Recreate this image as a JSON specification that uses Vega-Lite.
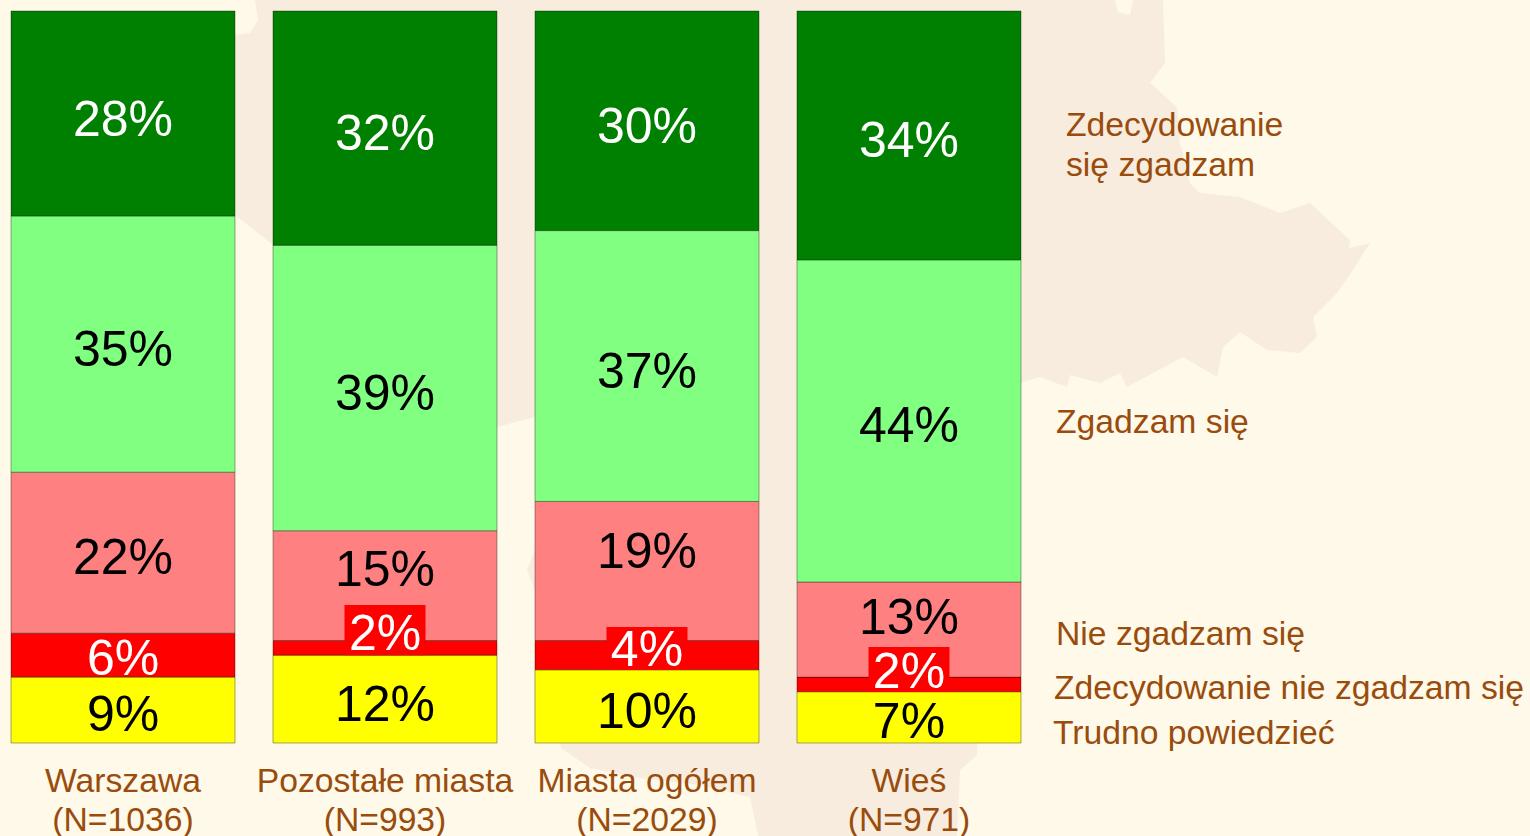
{
"$schema":"https://vega.github.io/schema/vega-lite/v6.json",
"width":1530,"height":836,"padding":0,"autosize":{"type":"none"},
"background":"#FEF9E8",
"config":{"view":{"stroke":null},"font":"Liberation Sans"},
"datasets":{
"shares":[
{"group":"Warszawa (N=1036)","series":"Trudno powiedzieć","rank":1,"value":9,"labelPos":4.0},
{"group":"Warszawa (N=1036)","series":"Zdecydowanie nie zgadzam się","rank":2,"value":6,"labelPos":11.6},
{"group":"Warszawa (N=1036)","series":"Nie zgadzam się","rank":3,"value":22,"labelPos":25.4},
{"group":"Warszawa (N=1036)","series":"Zgadzam się","rank":4,"value":35,"labelPos":53.8},
{"group":"Warszawa (N=1036)","series":"Zdecydowanie się zgadzam","rank":5,"value":28,"labelPos":85.2},
{"group":"Pozostałe miasta (N=993)","series":"Trudno powiedzieć","rank":1,"value":12,"labelPos":5.3},
{"group":"Pozostałe miasta (N=993)","series":"Zdecydowanie nie zgadzam się","rank":2,"value":2,"labelPos":15.0},
{"group":"Pozostałe miasta (N=993)","series":"Nie zgadzam się","rank":3,"value":15,"labelPos":23.8},
{"group":"Pozostałe miasta (N=993)","series":"Zgadzam się","rank":4,"value":39,"labelPos":47.8},
{"group":"Pozostałe miasta (N=993)","series":"Zdecydowanie się zgadzam","rank":5,"value":32,"labelPos":83.3},
{"group":"Miasta ogółem (N=2029)","series":"Trudno powiedzieć","rank":1,"value":10,"labelPos":4.4},
{"group":"Miasta ogółem (N=2029)","series":"Zdecydowanie nie zgadzam się","rank":2,"value":4,"labelPos":12.8},
{"group":"Miasta ogółem (N=2029)","series":"Nie zgadzam się","rank":3,"value":19,"labelPos":26.2},
{"group":"Miasta ogółem (N=2029)","series":"Zgadzam się","rank":4,"value":37,"labelPos":50.8},
{"group":"Miasta ogółem (N=2029)","series":"Zdecydowanie się zgadzam","rank":5,"value":30,"labelPos":84.3},
{"group":"Wieś (N=971)","series":"Trudno powiedzieć","rank":1,"value":7,"labelPos":3.0},
{"group":"Wieś (N=971)","series":"Zdecydowanie nie zgadzam się","rank":2,"value":2,"labelPos":9.8},
{"group":"Wieś (N=971)","series":"Nie zgadzam się","rank":3,"value":13,"labelPos":17.2},
{"group":"Wieś (N=971)","series":"Zgadzam się","rank":4,"value":44,"labelPos":43.4},
{"group":"Wieś (N=971)","series":"Zdecydowanie się zgadzam","rank":5,"value":34,"labelPos":82.4}
],
"boxes":[
{"group":"Pozostałe miasta (N=993)","low":12,"high":18.85},
{"group":"Miasta ogółem (N=2029)","low":10,"high":15.85},
{"group":"Wieś (N=971)","low":7,"high":13.1}
],
"key":[
{"label":"Zdecydowanie\nsię zgadzam","keyX":1066,"keyPos":84.35},
{"label":"Zgadzam się","keyX":1056,"keyPos":43.65},
{"label":"Nie zgadzam się","keyX":1056,"keyPos":14.76},
{"label":"Zdecydowanie nie zgadzam się","keyX":1054,"keyPos":7.4},
{"label":"Trudno powiedzieć","keyX":1053,"keyPos":1.28}
]
},
"layer":[
{
"data":{"values":[{"type":"Feature","properties":{},"geometry":{"type":"Polygon","coordinates":[[[255,0],[1115,0],[1118,12],[1130,15],[1133,0],[1163,0],[1165,63],[1150,83],[1177,107],[1180,143],[1190,183],[1200,193],[1240,197],[1280,213],[1310,203],[1350,240],[1349,248],[1370,243],[1353,270],[1337,293],[1313,317],[1317,337],[1300,353],[1267,350],[1240,332],[1223,347],[1217,377],[1183,357],[1127,387],[1120,373],[1100,383],[1070,375],[1067,387],[1040,377],[1020,383],[985,560],[977,755],[960,770],[957,836],[758,836],[757,830],[750,797],[700,785],[640,778],[590,768],[561,748],[535,590],[527,570],[535,550],[535,417],[497,427],[273,245],[235,215],[230,100],[235,35],[250,33],[258,20],[255,0]]]}}]},
"projection":{"type":"identity","scale":1,"translate":[0,0]},
"mark":{"type":"geoshape","fill":"#F8ECDE","stroke":null}
},
{
"encoding":{
"x":{"field":"group","type":"nominal","sort":null,
"scale":{"domain":["Warszawa (N=1036)","Pozostałe miasta (N=993)","Miasta ogółem (N=2029)","Wieś (N=971)"],"range":[11,1021],"paddingInner":0.145,"paddingOuter":0},
"axis":{"title":null,"domain":false,"ticks":false,"grid":false,"orient":"bottom","offset":-93,"zindex":1,"labelAngle":0,"labelFontSize":33.7,"labelFont":"Liberation Sans","labelColor":"#994C0D","labelPadding":21,"labelLineHeight":39,"labelLimit":500,"labelOverlap":false,"labelBound":false,"labelFlush":false,"labelBaseline":"top",
"labelExpr":"[slice(datum.label,0,indexof(datum.label,' (')),slice(datum.label,indexof(datum.label,' (')+1)]"}}
},
"layer":[
{
"data":{"name":"shares"},
"mark":{"type":"bar","stroke":"#000","strokeOpacity":0.35,"strokeWidth":1},
"encoding":{
"y":{"field":"value","type":"quantitative","stack":"zero","scale":{"domain":[0,100],"range":[743,11],"nice":false,"zero":false},"axis":null},
"order":{"field":"rank","type":"ordinal"},
"color":{"field":"series","type":"nominal","legend":null,"scale":{"domain":["Zdecydowanie się zgadzam","Zgadzam się","Nie zgadzam się","Zdecydowanie nie zgadzam się","Trudno powiedzieć"],"range":["#008000","#80FF80","#FF8080","#FF0000","#FFFF00"]}}
}
},
{
"data":{"name":"boxes"},
"mark":{"type":"bar","fill":"#FF0000","size":81},
"encoding":{
"y":{"field":"low","type":"quantitative"},
"y2":{"field":"high"}
}
},
{
"data":{"name":"shares"},
"transform":[{"calculate":"datum.value+'%'","as":"pct"}],
"mark":{"type":"text","fontSize":50,"font":"Liberation Sans","baseline":"middle","align":"center","dy":2},
"encoding":{
"y":{"field":"labelPos","type":"quantitative"},
"text":{"field":"pct"},
"color":{"condition":{"test":"datum.series==='Zdecydowanie się zgadzam'||datum.series==='Zdecydowanie nie zgadzam się'","value":"#FFFFFF"},"value":"#000000"}
}
}
]
},
{
"data":{"name":"key"},
"mark":{"type":"text","fontSize":33.7,"font":"Liberation Sans","color":"#994C0D","align":"left","baseline":"middle","lineBreak":"\n","lineHeight":40},
"encoding":{
"x":{"field":"keyX","type":"quantitative","scale":{"domain":[0,1530],"range":[0,1530],"nice":false,"zero":false},"axis":null},
"y":{"field":"keyPos","type":"quantitative"},
"text":{"field":"label"}
}
}
],
"resolve":{"scale":{"x":"independent"}}
}
